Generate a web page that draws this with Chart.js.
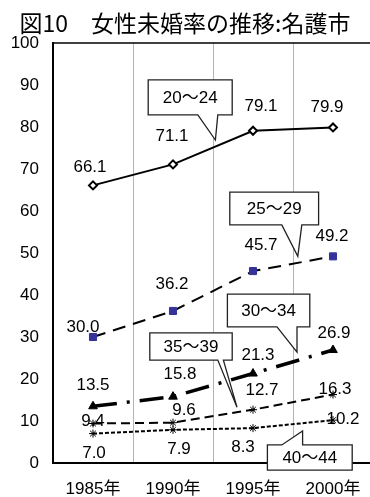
<!DOCTYPE html>
<html>
<head>
<meta charset="utf-8">
<script src="https://cdn.jsdelivr.net/npm/chart.js@4"></script>
<style>
  html, body { margin: 0; padding: 0; background: #fff; overflow: hidden; }
  #wrap { width: 370px; height: 497px; overflow: hidden; }
  canvas { display: block; }
</style>
</head>
<body>
<div id="wrap"><canvas id="c" width="380" height="497"></canvas></div>
<script>
// 名護市 女性未婚率（年齢階級別, %）
const years = ['1985年', '1990年', '1995年', '2000年'];
const ageGroups = ['20～24', '25～29', '30～34', '35～39', '40～44'];
const age20_24 = [66.1, 71.1, 79.1, 79.9];
const age25_29 = [30.0, 36.2, 45.7, 49.2];
const age30_34 = [13.5, 15.8, 21.3, 26.9];
const age35_39 = [9.4, 9.6, 12.7, 16.3];
const age40_44 = [7.0, 7.9, 8.3, 10.2];
const yMin = 0, yMax = 100, yStep = 10;

const TITLE = '図10　女性未婚率の推移:名護市';
const NUM_FONT = '"Liberation Sans", Arial, "Noto Sans CJK JP", sans-serif';
const JP_FONT = '"Noto Sans CJK JP", sans-serif';

// value-label offsets (px) from each point
const labelOffsets = [
  [[-3, -18], [-1, -28], [8, -24], [-6, -20]],
  [[-10, -10], [-1, -27], [8, -26], [-1, -20]],
  [[0, -21], [7, -22], [5, -18], [1, -17]],
  [[0, -2], [11, -12], [9, -19], [2, -5]],
  [[1, 20], [6, 19], [-10, 19], [10, -1]]
];

// callout boxes, in axis units (category index / value)
const callouts = [
  { text: ageGroups[0], x0: 0.69, x1: 1.74, y0: 91.2, y1: 82.9, side: 'bottom', b0: 1.31, b1: 1.56, tip: [1.53, 76.9] },
  { text: ageGroups[1], x0: 1.71, x1: 2.82, y0: 64.5, y1: 56.7, side: 'bottom', b0: 2.36, b1: 2.61, tip: [2.56, 49.2] },
  { text: ageGroups[2], x0: 1.68, x1: 2.71, y0: 40.2, y1: 32.4, side: 'bottom', b0: 2.30, b1: 2.55, tip: [2.55, 26.4] },
  { text: ageGroups[3], x0: 0.71, x1: 1.74, y0: 31.0, y1: 24.5, side: 'bottom', b0: 1.56, b1: 1.63, tip: [1.80, 13.3] },
  { text: ageGroups[4], x0: 2.18, x1: 3.24, y0: 4.3, y1: -1.7, side: 'top', b0: 2.36, b1: 2.62, tip: [2.62, 7.6] }
];

const frameAndTitle = {
  id: 'frameAndTitle',
  beforeDraw(chart) {
    const ctx = chart.ctx;
    ctx.save();
    ctx.fillStyle = '#fff';
    ctx.fillRect(0, 0, chart.width, chart.height);
    ctx.restore();
  },
  afterDraw(chart) {
    const ctx = chart.ctx, a = chart.chartArea;
    ctx.save();
    ctx.strokeStyle = '#000';
    ctx.lineWidth = 1.5;
    ctx.beginPath();
    ctx.moveTo(a.left, a.top);
    ctx.lineTo(a.right, a.top);
    ctx.stroke();
    ctx.fillStyle = '#000';
    ctx.font = '23px ' + JP_FONT;
    ctx.textAlign = 'center';
    ctx.textBaseline = 'middle';
    ctx.fillText(TITLE, 185, 23);
    ctx.restore();
  }
};

const calloutsAndLabels = {
  id: 'calloutsAndLabels',
  afterDatasetsDraw(chart) {
    const ctx = chart.ctx;
    const xs = chart.scales.x, ys = chart.scales.y;
    const step = xs.getPixelForValue(1) - xs.getPixelForValue(0);
    const px = i => xs.getPixelForValue(0) + i * step;
    const py = v => ys.getPixelForValue(v);
    ctx.save();
    // callouts
    callouts.forEach(c => {
      const L = px(c.x0), R = px(c.x1), T = py(c.y0), B = py(c.y1);
      const b0 = px(c.b0), b1 = px(c.b1), tx = px(c.tip[0]), ty = py(c.tip[1]);
      ctx.beginPath();
      if (c.side === 'bottom') {
        ctx.moveTo(L, T); ctx.lineTo(R, T); ctx.lineTo(R, B);
        ctx.lineTo(b1, B); ctx.lineTo(tx, ty); ctx.lineTo(b0, B);
        ctx.lineTo(L, B); ctx.closePath();
      } else {
        ctx.moveTo(L, T); ctx.lineTo(b0, T); ctx.lineTo(tx, ty); ctx.lineTo(b1, T);
        ctx.lineTo(R, T); ctx.lineTo(R, B); ctx.lineTo(L, B); ctx.closePath();
      }
      ctx.fillStyle = '#fff';
      ctx.fill();
      ctx.strokeStyle = '#222';
      ctx.lineWidth = 1.3;
      ctx.lineJoin = 'miter';
      ctx.stroke();
      ctx.fillStyle = '#000';
      ctx.font = '17px ' + NUM_FONT;
      ctx.textAlign = 'center';
      ctx.textBaseline = 'middle';
      ctx.fillText(c.text, (L + R) / 2, (T + B) / 2 + 1);
    });
    // value labels
    ctx.fillStyle = '#000';
    ctx.font = '17px ' + NUM_FONT;
    ctx.textAlign = 'center';
    ctx.textBaseline = 'middle';
    chart.data.datasets.forEach((ds, di) => {
      const meta = chart.getDatasetMeta(di);
      meta.data.forEach((pt, j) => {
        const off = labelOffsets[di][j];
        ctx.fillText(ds.data[j].toFixed(1), pt.x + off[0], pt.y + off[1]);
      });
    });
    ctx.restore();
  }
};

new Chart(document.getElementById('c'), {
  type: 'line',
  data: {
    labels: years,
    datasets: [
      { label: ageGroups[0], data: age20_24, borderColor: '#000', borderWidth: 2,
        pointStyle: 'rectRot', pointRadius: 4, pointBackgroundColor: '#fff',
        pointBorderColor: '#000', pointBorderWidth: 2 },
      { label: ageGroups[1], data: age25_29, borderColor: '#000', borderWidth: 2, borderDash: [13, 8],
        pointStyle: 'rect', pointRadius: 5, pointBackgroundColor: '#333399',
        pointBorderColor: '#333399', pointBorderWidth: 1 },
      { label: ageGroups[2], data: age30_34, borderColor: '#000', borderWidth: 3.5, borderDash: [24, 10, 3, 10],
        pointStyle: 'triangle', pointRadius: 5, pointBackgroundColor: '#000',
        pointBorderColor: '#000', pointBorderWidth: 1 },
      { label: ageGroups[3], data: age35_39, borderColor: '#000', borderWidth: 2, borderDash: [9, 5],
        pointStyle: 'star', pointRadius: 4, pointBackgroundColor: '#000',
        pointBorderColor: '#000', pointBorderWidth: 1 },
      { label: ageGroups[4], data: age40_44, borderColor: '#000', borderWidth: 2, borderDash: [4, 2],
        pointStyle: 'star', pointRadius: 4, pointBackgroundColor: '#000',
        pointBorderColor: '#000', pointBorderWidth: 1 }
    ]
  },
  options: {
    responsive: false,
    animation: false,
    events: [],
    clip: false,
    layout: { padding: { top: 43, right: 7, left: 0, bottom: 0 } },
    plugins: { legend: { display: false }, title: { display: false }, tooltip: { enabled: false } },
    elements: { line: { tension: 0, fill: false } },
    scales: {
      x: {
        offset: true,
        grid: { offset: true, color: '#b4b4b4', lineWidth: 1, drawTicks: false },
        border: { color: '#000', width: 2 },
        ticks: { color: '#000', font: { family: NUM_FONT, size: 17 }, padding: 16, maxRotation: 0 },
        afterFit(s) { s.height = 34; }
      },
      y: {
        min: yMin, max: yMax,
        grid: { display: false, drawTicks: false },
        border: { color: '#000', width: 2 },
        ticks: { stepSize: yStep, color: '#000', font: { family: NUM_FONT, size: 17 }, padding: 14 },
        afterFit(s) { s.width = 53; }
      }
    }
  },
  plugins: [frameAndTitle, calloutsAndLabels]
});
</script>
</body>
</html>
